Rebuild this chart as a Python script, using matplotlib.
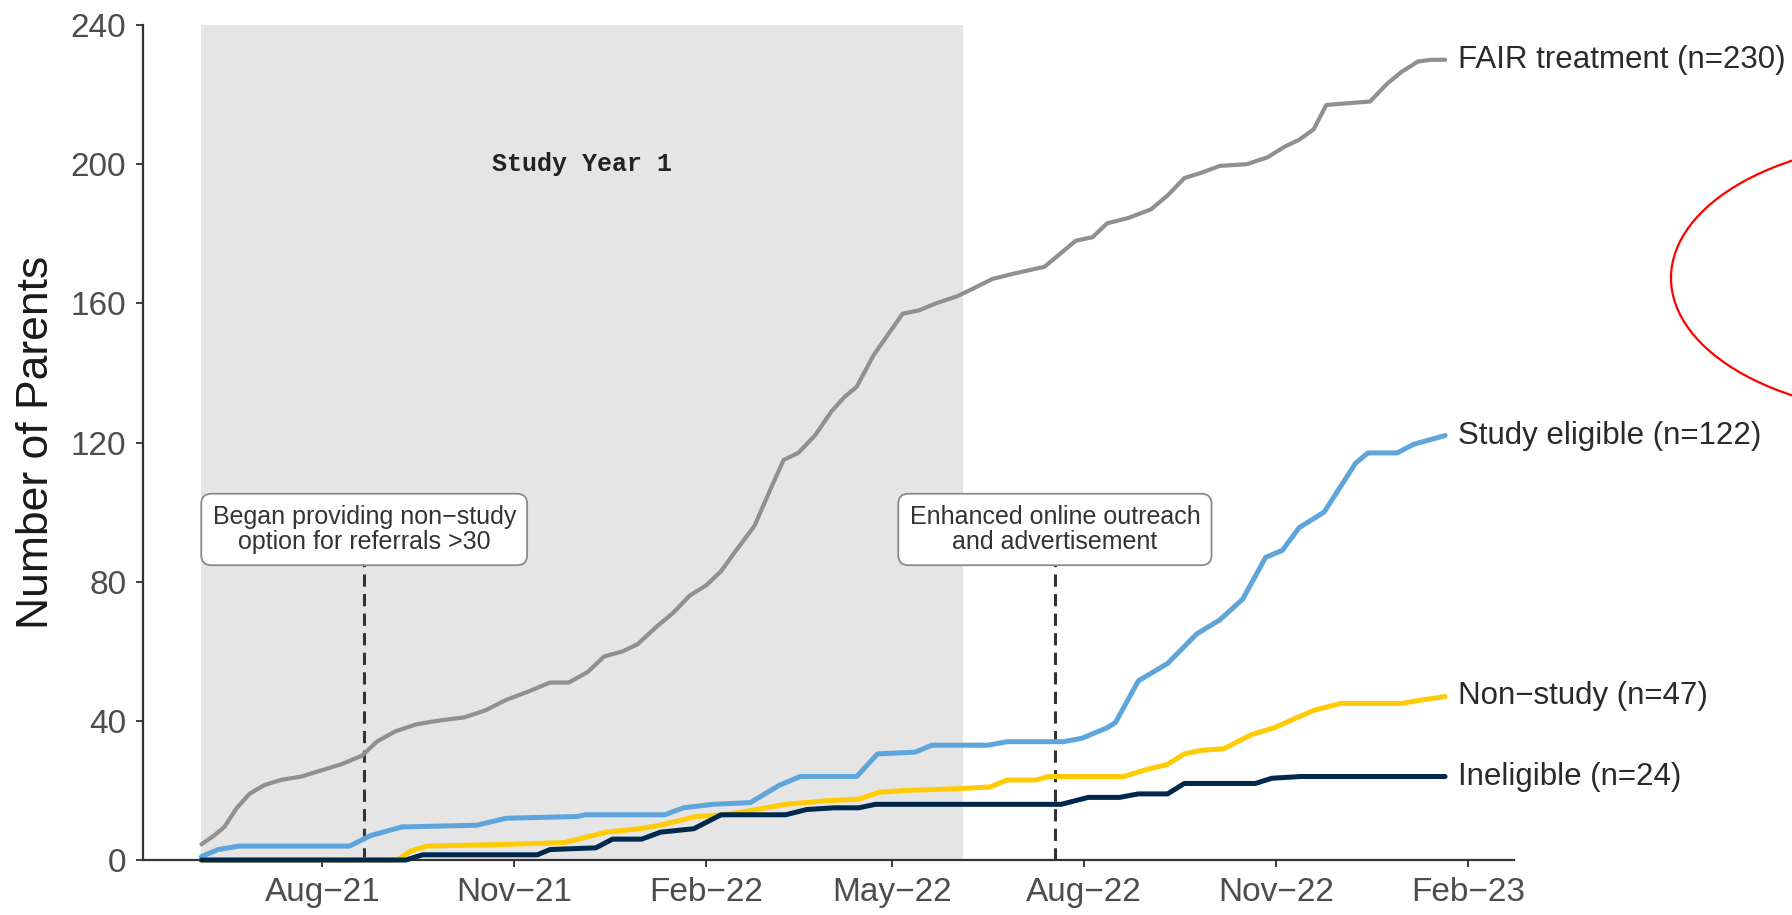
import matplotlib
matplotlib.use('Agg')
import matplotlib.pyplot as plt
from matplotlib.patches import Ellipse
import pandas as pd

plt.rcParams['font.family'] = ['Liberation Sans', 'DejaVu Sans']

# cumulative parents per group
fair_dates = ['2021-06-04', '2021-06-10', '2021-06-15', '2021-06-21', '2021-06-27', '2021-07-04',
              '2021-07-12', '2021-07-22', '2021-07-30', '2021-08-10', '2021-08-20', '2021-08-27',
              '2021-09-05', '2021-09-15', '2021-09-25', '2021-10-08', '2021-10-18', '2021-10-28',
              '2021-11-08', '2021-11-18', '2021-11-27', '2021-12-06', '2021-12-14', '2021-12-23',
              '2021-12-30', '2022-01-08', '2022-01-16', '2022-01-24', '2022-02-01', '2022-02-08',
              '2022-02-14', '2022-02-24', '2022-03-04', '2022-03-10', '2022-03-17', '2022-03-25',
              '2022-04-02', '2022-04-08', '2022-04-14', '2022-04-22', '2022-04-29', '2022-05-06',
              '2022-05-14', '2022-05-22', '2022-06-01', '2022-06-08', '2022-06-18', '2022-06-28',
              '2022-07-13', '2022-07-20', '2022-07-28', '2022-08-05', '2022-08-12', '2022-08-22',
              '2022-09-02', '2022-09-10', '2022-09-18', '2022-09-26', '2022-10-05', '2022-10-18',
              '2022-10-28', '2022-11-05', '2022-11-12', '2022-11-19', '2022-11-25', '2022-12-05',
              '2022-12-16', '2022-12-24', '2022-12-31', '2023-01-08', '2023-01-14', '2023-01-21']
fair_counts = [4.5, 7, 9.5, 15, 19, 21.5,
               23, 24, 25.5, 27.5, 30, 34,
               37, 39, 40, 41, 43, 46,
               48.5, 51, 51, 54, 58.5, 60,
               62, 67, 71, 76, 79, 83,
               88, 96, 107, 115, 117, 122,
               129, 133, 136, 145, 151, 157,
               158, 160, 162, 164, 167, 168.5,
               170.5, 174, 178, 179, 183, 184.5,
               187, 191, 196, 197.5, 199.5, 200,
               202, 205, 207, 210, 217, 217.5,
               218, 223, 226.5, 229.5, 230, 230]

eligible_dates = ['2021-06-04', '2021-06-12', '2021-06-22', '2021-08-14', '2021-08-24', '2021-09-08',
                  '2021-10-14', '2021-10-28', '2021-12-01', '2021-12-05', '2022-01-12', '2022-01-21',
                  '2022-02-04', '2022-02-22', '2022-03-08', '2022-03-18', '2022-04-14', '2022-04-24',
                  '2022-05-12', '2022-05-20', '2022-06-16', '2022-06-25', '2022-07-22', '2022-07-31',
                  '2022-08-12', '2022-08-16', '2022-08-27', '2022-09-10', '2022-09-24', '2022-10-05',
                  '2022-10-16', '2022-10-27', '2022-11-04', '2022-11-12', '2022-11-24', '2022-12-09',
                  '2022-12-15', '2022-12-29', '2023-01-06', '2023-01-21']
eligible_counts = [1, 3, 4, 4, 7, 9.5,
                   10, 12, 12.5, 13, 13, 15,
                   16, 16.5, 21.5, 24, 24, 30.5,
                   31, 33, 33, 34, 34, 35,
                   38, 39.5, 51.5, 56.5, 65, 69,
                   75, 87, 89, 95.5, 100, 114,
                   117, 117, 119.5, 122]

nonstudy_dates = ['2021-06-04', '2021-09-06', '2021-09-12', '2021-09-20', '2021-10-28', '2021-11-25',
                  '2021-12-15', '2021-12-31', '2022-01-10', '2022-01-27', '2022-02-10', '2022-02-25',
                  '2022-03-11', '2022-03-30', '2022-04-15', '2022-04-25', '2022-05-08', '2022-06-02',
                  '2022-06-17', '2022-06-25', '2022-07-09', '2022-07-15', '2022-08-20', '2022-08-31',
                  '2022-09-10', '2022-09-18', '2022-09-26', '2022-10-07', '2022-10-20', '2022-10-31',
                  '2022-11-19', '2022-12-02', '2022-12-31', '2023-01-10', '2023-01-21']
nonstudy_counts = [0, 0, 2.5, 4, 4.5, 5,
                   8, 9, 10, 12.5, 13, 14.5,
                   16, 17, 17.5, 19.5, 20, 20.5,
                   21, 23, 23, 24, 24, 26,
                   27.5, 30.5, 31.5, 32, 36, 38,
                   43, 45, 45, 46, 47]

ineligible_dates = ['2021-06-04', '2021-09-10', '2021-09-18', '2021-11-12', '2021-11-18', '2021-12-10',
                    '2021-12-18', '2022-01-01', '2022-01-10', '2022-01-26', '2022-02-08', '2022-03-11',
                    '2022-03-21', '2022-04-03', '2022-04-15', '2022-04-23', '2022-07-21', '2022-08-03',
                    '2022-08-18', '2022-08-27', '2022-09-10', '2022-09-18', '2022-10-22', '2022-10-30',
                    '2022-11-13', '2023-01-21']
ineligible_counts = [0, 0, 1.5, 1.5, 3, 3.5,
                     6, 6, 8, 9, 13, 13,
                     14.5, 15, 15, 16, 16, 18,
                     18, 19, 19, 22, 22, 23.5,
                     24, 24]

series = [
    ('FAIR treatment (n=230)', fair_dates, fair_counts, '#909090', 3.0),
    ('Study eligible (n=122)', eligible_dates, eligible_counts, '#5DA5DA', 3.6),
    ('Non\u2212study (n=47)', nonstudy_dates, nonstudy_counts, '#FFCB05', 3.6),
    ('Ineligible (n=24)', ineligible_dates, ineligible_counts, '#00274C', 3.6),
]

year1_start, year1_end = '2021-06-04', '2022-06-04'

event_dates = ['2021-08-21', '2022-07-18']
event_texts = ['Began providing non\u2212study\noption for referrals >30',
               'Enhanced online outreach\nand advertisement']

tick_dates = ['2021-08-01', '2021-11-01', '2022-02-01', '2022-05-01',
              '2022-08-01', '2022-11-01', '2023-02-01']
tick_labels = ['Aug\u221221', 'Nov\u221221', 'Feb\u221222', 'May\u221222',
               'Aug\u221222', 'Nov\u221222', 'Feb\u221223']

fig = plt.figure(figsize=(17.92, 9.15), dpi=100)
ax = fig.add_axes([143 / 1792, 1 - 860 / 915, (1514 - 143) / 1792, (860 - 25) / 915])

# shaded first study year
s0, s1 = pd.Timestamp(year1_start), pd.Timestamp(year1_end)
ax.axvspan(s0, s1, color='#e5e5e5', lw=0, zorder=0)
ax.text(s0 + (s1 - s0) / 2, 200, 'Study Year 1', family='Liberation Mono',
        weight='bold', fontsize=18, ha='center', va='center', color='#222222')

# event markers with boxed labels
for d, txt in zip(event_dates, event_texts):
    d = pd.Timestamp(d)
    ax.plot([d, d], [0, 86], color='#333333', lw=2.2, ls=(0, (4, 2.4)), zorder=2)
    ax.text(d, 95, txt, ha='center', va='center', fontsize=18, color='#333333',
            linespacing=1.05, zorder=5,
            bbox=dict(boxstyle='round,pad=0.45,rounding_size=0.4', fc='white',
                      ec='#8a8a8a', lw=1.3))

for label, dates, counts, color, lw in series:
    x = pd.to_datetime(dates)
    ax.plot(x, counts, color=color, lw=lw, solid_joinstyle='round',
            solid_capstyle='round', clip_on=False, zorder=3)
    ax.annotate(label, xy=(x[-1], counts[-1]), xytext=(9, 0), textcoords='offset points',
                ha='left', va='center', fontsize=22.5, color='#2a2a2a',
                annotation_clip=False)

ax.set_xlim(pd.Timestamp('2021-05-07'), pd.Timestamp('2023-02-23'))
ax.set_ylim(0, 240)
ax.set_xticks(pd.to_datetime(tick_dates))
ax.set_xticklabels(tick_labels)
ax.set_yticks(range(0, 241, 40))

for side in ['top', 'right']:
    ax.spines[side].set_visible(False)
for side in ['left', 'bottom']:
    ax.spines[side].set_color('#333333')
    ax.spines[side].set_linewidth(1.6)
ax.tick_params(length=5, width=1.3, color='#333333', labelsize=24,
               labelcolor='#4d4d4d', pad=7)
ax.set_facecolor('none')

fig.text(37 / 1792, 1 - 442 / 915, 'Number of Parents', rotation=90,
         fontsize=32, ha='center', va='center', color='#1a1a1a')

# red ring on the right margin
fig.add_artist(Ellipse((1921 / 1792, 1 - 278 / 915), 500 / 1792, 274 / 915,
                       transform=fig.transFigure, fill=False, ec='red', lw=1.6))

fig.savefig('out.png', dpi=100)
